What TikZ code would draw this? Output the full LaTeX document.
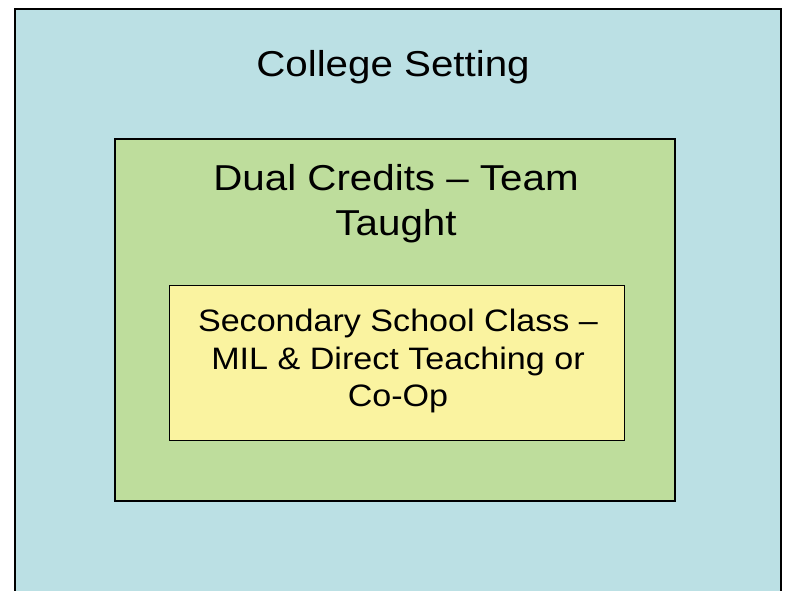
\documentclass[tikz,border=0pt]{standalone}
\usepackage{fontspec}
\setmainfont{Liberation Sans}
\newfontfamily\bigf[FakeStretch=1.12,Ligatures=TeX]{Liberation Sans}
\newfontfamily\smallf[FakeStretch=1.1,Ligatures=TeX]{Liberation Sans}
\definecolor{collegeblue}{RGB}{187,224,228}
\definecolor{dualgreen}{RGB}{190,221,156}
\definecolor{schoolyellow}{RGB}{250,243,160}
\tikzset{
  box/.style={draw=black, rectangle, inner sep=0pt},
  label36/.style={anchor=north, align=center, inner sep=0pt, font=\bigf\fontsize{36}{45}\selectfont},
  label31/.style={anchor=north, align=center, inner sep=0pt, font=\smallf\fontsize{31}{37.5}\selectfont},
}
\begin{document}
\begin{tikzpicture}[x=1pt,y=-1pt]
\useasboundingbox (0,0) rectangle (790,590);
\clip (0,0) rectangle (790,590);
\fill[white] (0,0) rectangle (790,590);
\node[box, fill=collegeblue, line width=2.4pt, minimum width=766pt, minimum height=602pt] (college) at (398,310) {};
\node[box, fill=dualgreen, line width=2pt, minimum width=560pt, minimum height=362pt] (dual) at (394.5,320) {};
\node[box, fill=schoolyellow, line width=1pt, minimum width=455pt, minimum height=155pt] (school) at (396.5,362.5) {};
\node[label36] (collegetext) at (393,50) {College Setting};
\node[label36] (dualtext) at (396,164) {Dual Credits – Team\\Taught};
\node[label31] (schooltext) at (398,309) {Secondary School Class –\\MIL \& Direct Teaching or\\Co-Op};
\end{tikzpicture}
\end{document}
